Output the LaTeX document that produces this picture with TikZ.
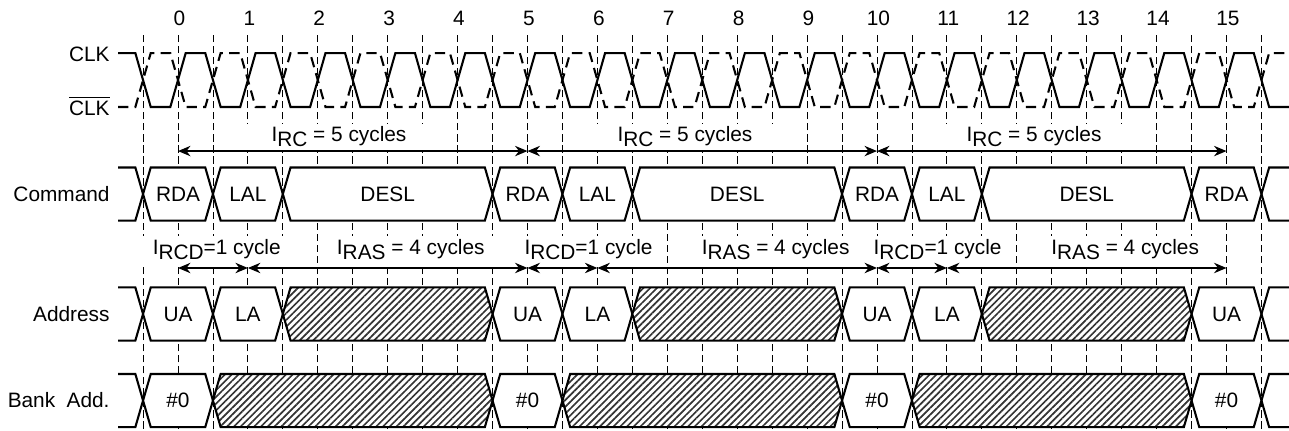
\documentclass[tikz,border=0pt]{standalone}
\usepackage{fontspec}
\setmainfont{Liberation Sans}
\usepackage{tikz}
\usetikzlibrary{arrows.meta,patterns.meta,positioning}

\newcommand{\lsub}[1]{\raisebox{-0.42ex}{#1}}
\newcommand{\trw}{0.11}   % half width of a transition
\newcommand{\rowh}{0.38}  % half height of a row
\newcommand{\cmdy}{3.376}
\newcommand{\addry}{1.66}
\newcommand{\banky}{0.422}

\begin{document}
\begin{tikzpicture}[
    x=33.55pt, y=33.55pt,
    grid/.style={thin, dash pattern=on 3.5pt off 1.8pt},
    clk/.style={line width=1pt},
    clkbar/.style={line width=1pt, dash pattern=on 5pt off 3pt},
    bus/.style={line width=1pt, fill=white},
    hatch/.style={line width=1pt, preaction={fill=white}, pattern={Lines[angle=45,distance=2.3pt,line width=0.8pt]}, pattern color=black!80},
    timearrow/.style={<->, >={Stealth[length=6pt,width=5pt]}, semithick},
    lbl/.style={anchor=base, fill=white, inner ysep=1.5pt, inner xsep=5pt},
    signame/.style={anchor=east, inner sep=0pt}
]
\useasboundingbox (-2.5465,0) rectangle (15.894,6.152);

% Grid
\foreach \k in {-0.5,0,...,15.5}
    \draw[grid] (\k,0.02) -- (\k,5.694);

% Cycle numbers
\foreach \k in {0,...,15}
    \node[anchor=base] (n\k) at (\k+0.02,5.794) {\k};

% Signal names
\node[signame] (clk) at (-0.973,5.372) {CLK};
\node[signame, anchor=base east] (clkb) at (-0.973,4.506) {$\overline{\mbox{CLK}}$};
\node[signame] (cmd) at (-0.973,\cmdy) {Command};
\node[signame] (addr) at (-0.973,\addry) {Address};
\node[signame] (bank) at (-0.973,\banky) {Bank\hspace{0.55em}Add.};

% Clocks
\draw[clk] (-0.858,5.393) -- (-0.61,5.393)
    \foreach \k in {0,...,15} { -- ({\k-0.5+\trw},4.621) -- ({\k-\trw},4.621) -- ({\k+\trw},5.393) -- ({\k+0.5-\trw},5.393) }
    -- (15.61,4.621) -- (15.894,4.621);
\draw[clkbar] (-0.858,4.621) -- (-0.61,4.621)
    \foreach \k in {0,...,15} { -- ({\k-0.5+\trw},5.393) -- ({\k-\trw},5.393) -- ({\k+\trw},4.621) -- ({\k+0.5-\trw},4.621) }
    -- (15.61,5.393) -- (15.894,5.393);

% Open ends of the buses
\foreach \y in {\cmdy,\addry,\banky} {
    \draw[line width=1pt] (-0.858,\y+\rowh) -- (-0.61,\y+\rowh) -- (-0.5,\y) -- (-0.61,\y-\rowh) -- (-0.858,\y-\rowh);
    \draw[line width=1pt] (15.894,\y+\rowh) -- (15.61,\y+\rowh) -- (15.5,\y) -- (15.61,\y-\rowh) -- (15.894,\y-\rowh);
}

% Command
\foreach \a/\b/\t [count=\i] in {-0.5/0.5/RDA, 0.5/1.5/LAL, 1.5/4.5/DESL, 4.5/5.5/RDA, 5.5/6.5/LAL, 6.5/9.5/DESL, 9.5/10.5/RDA, 10.5/11.5/LAL, 11.5/14.5/DESL, 14.5/15.5/RDA} {
    \draw[bus] (\a,\cmdy) -- (\a+\trw,\cmdy+\rowh) -- (\b-\trw,\cmdy+\rowh) -- (\b,\cmdy) -- (\b-\trw,\cmdy-\rowh) -- (\a+\trw,\cmdy-\rowh) -- cycle;
    \node (c\i) at ({(\a+\b)/2},\cmdy) {\t};
}

% Address
\foreach \a/\b/\t [count=\i] in {-0.5/0.5/UA, 0.5/1.5/LA, 4.5/5.5/UA, 5.5/6.5/LA, 9.5/10.5/UA, 10.5/11.5/LA, 14.5/15.5/UA} {
    \draw[bus] (\a,\addry) -- (\a+\trw,\addry+\rowh) -- (\b-\trw,\addry+\rowh) -- (\b,\addry) -- (\b-\trw,\addry-\rowh) -- (\a+\trw,\addry-\rowh) -- cycle;
    \node (a\i) at ({(\a+\b)/2},\addry) {\t};
}
\foreach \a/\b in {1.5/4.5, 6.5/9.5, 11.5/14.5}
    \draw[hatch] (\a,\addry) -- (\a+\trw,\addry+\rowh) -- (\b-\trw,\addry+\rowh) -- (\b,\addry) -- (\b-\trw,\addry-\rowh) -- (\a+\trw,\addry-\rowh) -- cycle;

% Bank address
\foreach \a/\b [count=\i] in {-0.5/0.5, 4.5/5.5, 9.5/10.5, 14.5/15.5} {
    \draw[bus] (\a,\banky) -- (\a+\trw,\banky+\rowh) -- (\b-\trw,\banky+\rowh) -- (\b,\banky) -- (\b-\trw,\banky-\rowh) -- (\a+\trw,\banky-\rowh) -- cycle;
    \node (b\i) at ({(\a+\b)/2},\banky) {\#0};
}
\foreach \a/\b in {0.5/4.5, 5.5/9.5, 10.5/14.5}
    \draw[hatch] (\a,\banky) -- (\a+\trw,\banky+\rowh) -- (\b-\trw,\banky+\rowh) -- (\b,\banky) -- (\b-\trw,\banky-\rowh) -- (\a+\trw,\banky-\rowh) -- cycle;

% Timing labels
\node[lbl, inner xsep=14pt] (lrc1) at (2.303,4.124) {I\lsub{RC} = 5 cycles};
\node[lbl, inner xsep=14pt] (lrc2) at (7.253,4.124) {I\lsub{RC} = 5 cycles};
\node[lbl, inner xsep=14pt] (lrc3) at (12.246,4.124) {I\lsub{RC} = 5 cycles};
\node[lbl] (lrcd1) at (0.554,2.51) {I\lsub{RCD}=1 cycle};
\node[lbl] (lrcd2) at (5.873,2.51) {I\lsub{RCD}=1 cycle};
\node[lbl] (lrcd3) at (10.866,2.51) {I\lsub{RCD}=1 cycle};
\node[lbl] (lras1) at (3.33,2.51) {I\lsub{RAS} = 4 cycles};
\node[lbl] (lras2) at (8.55,2.51) {I\lsub{RAS} = 4 cycles};
\node[lbl] (lras3) at (13.55,2.51) {I\lsub{RAS} = 4 cycles};

% Timing arrows
\foreach \k in {0,1,5,6,10,11,15} {
    \coordinate (rc\k) at (\k,3.991);
    \coordinate (ras\k) at (\k,2.318);
}
\draw[timearrow] (rc0) -- (rc5);
\draw[timearrow] (rc5) -- (rc10);
\draw[timearrow] (rc10) -- (rc15);
\foreach \p/\q in {0/1, 1/5, 5/6, 6/10, 10/11, 11/15}
    \draw[timearrow] (ras\p) -- (ras\q);

\end{tikzpicture}
\end{document}
